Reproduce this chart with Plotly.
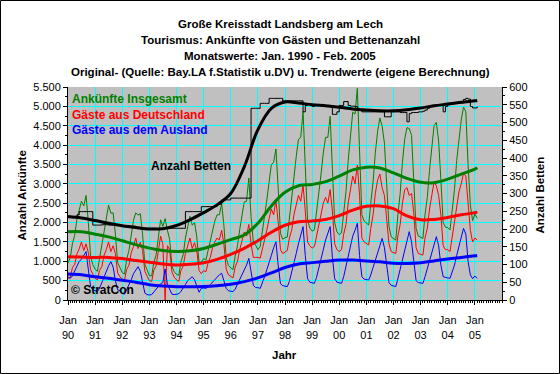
import pandas as pd
import plotly.graph_objects as go

# ---------------- data (monthly, Jan 1990 - Feb 2005) ----------------
months = pd.date_range("1990-01-01", periods=182, freq="MS")

total_arrivals = [
    950, 1100, 1450, 1670, 2090, 2320, 2550, 2430, 2700, 2030, 1130, 910,      # 1990
    800, 740, 1060, 1310, 1750, 2050, 2450, 2240, 2250, 1700, 960, 840,        # 1991
    710, 670, 1050, 1280, 1740, 2060, 2250, 2190, 2230, 1700, 920, 760,        # 1992
    630, 620, 970, 1160, 1580, 2070, 1900, 2100, 1800, 1560, 870, 730,         # 1993
    665, 640, 980, 1170, 1600, 1880, 2160, 1930, 2000, 1630, 960, 980,         # 1994
    1070, 1030, 1280, 1500, 1810, 2040, 2200, 2200, 2490, 1930, 1100, 890,     # 1995
    830, 785, 1130, 1400, 1820, 2200, 2530, 2550, 3150, 2150, 1480, 1420,      # 1996
    1300, 1380, 1720, 2100, 2580, 3050, 3500, 3550, 3900, 2900, 1720, 1570,    # 1997
    1610, 1625, 2080, 2500, 3150, 3700, 4150, 4200, 4865, 3450, 2050, 1860,    # 1998
    1780, 1810, 2230, 2650, 3250, 3800, 4200, 4200, 4745, 3400, 2000, 1760,    # 1999
    1690, 1730, 2300, 2800, 3600, 4300, 4850, 4800, 5465, 3850, 2200, 2040,    # 2000
    1980, 1935, 2500, 3050, 3800, 4350, 4700, 4490, 4050, 2950, 1900, 1630,    # 2001
    1580, 1545, 2200, 2750, 3550, 4150, 4450, 4430, 4250, 3200, 1850, 1650,    # 2002
    1620, 1590, 2200, 2650, 3350, 3950, 4500, 4585, 4100, 3100, 2000, 1880,    # 2003
    1870, 1810, 2350, 2850, 3600, 4200, 4650, 4980, 4860, 3500, 2450, 2050,    # 2004
    2220, 2110,                                                                # 2005
]

guests_germany = [
    560, 580, 830, 920, 1190, 1320, 1500, 1280, 1450, 1230, 780, 650,
    560, 520, 760, 860, 1150, 1300, 1500, 1250, 1400, 1200, 700, 600,
    540, 520, 790, 900, 1220, 1380, 1600, 1330, 1490, 1280, 740, 620,
    500, 480, 770, 880, 1230, 1650, 1450, 0, 1400, 1300, 720, 590,
    520, 480, 760, 870, 1200, 1380, 1600, 1330, 1480, 1280, 760, 680,
    760, 730, 950, 1100, 1350, 1500, 1600, 1550, 1800, 1450, 800, 650,
    600, 570, 850, 1000, 1300, 1550, 1750, 1650, 1950, 1450, 1100, 1100,
    1100, 1080, 1300, 1500, 1800, 2100, 2350, 2200, 2580, 2000, 1300, 1200,
    1250, 1280, 1600, 1800, 2200, 2500, 2700, 2550, 2970, 2300, 1500, 1400,
    1340, 1380, 1650, 1850, 2200, 2500, 2650, 2500, 2850, 2300, 1450, 1300,
    1250, 1300, 1700, 1950, 2500, 2900, 3200, 3000, 3485, 2700, 1600, 1500,
    1450, 1420, 1850, 2200, 2750, 3100, 3250, 2900, 2700, 2100, 1450, 1250,
    1220, 1200, 1650, 1950, 2500, 2850, 2900, 2700, 2750, 2250, 1350, 1200,
    1180, 1160, 1600, 1850, 2350, 2700, 3050, 2950, 2700, 2200, 1400, 1300,
    1300, 1250, 1650, 1950, 2450, 2800, 3000, 3270, 3200, 2500, 1800, 1500,
    1600, 1550,
]

guests_foreign = [
    600, 560, 620, 750, 900, 1000, 1050, 1150, 1250, 800, 350, 260,
    240, 220, 300, 450, 600, 750, 880, 990, 850, 500, 260, 240,
    170, 150, 260, 380, 520, 680, 780, 860, 740, 420, 180, 140,
    130, 140, 200, 280, 350, 420, 450, 800, 400, 260, 150, 140,
    145, 160, 220, 300, 400, 500, 560, 600, 520, 350, 200, 300,
    310, 300, 330, 400, 460, 540, 600, 650, 690, 480, 300, 240,
    230, 215, 280, 400, 520, 650, 780, 900, 1075, 700, 380, 320,
    320, 300, 420, 600, 780, 950, 1150, 1350, 1505, 900, 420, 370,
    360, 345, 480, 700, 950, 1200, 1450, 1650, 1895, 1150, 550, 460,
    440, 430, 580, 800, 1050, 1300, 1550, 1700, 1895, 1100, 550, 460,
    440, 430, 600, 850, 1100, 1400, 1650, 1800, 1980, 1150, 600, 540,
    530, 515, 650, 850, 1050, 1250, 1450, 1590, 1350, 850, 450, 380,
    360, 345, 550, 800, 1050, 1300, 1550, 1765, 1500, 950, 500, 450,
    440, 430, 600, 800, 1000, 1250, 1450, 1635, 1400, 900, 600, 580,
    570, 560, 700, 900, 1150, 1400, 1650, 1850, 1700, 1000, 650, 550,
    620, 560,
]

beds = [
    232, 232, 232, 235, 240, 249, 249, 249, 249, 249, 249, 211,
    211, 211, 211, 212, 212, 212, 211, 211, 211, 210, 210, 210,
    210, 210, 210, 208, 208, 208, 205, 205, 202, 202, 202, 202,
    202, 202, 202, 200, 200, 200, 202, 202, 202, 202, 202, 202,
    202, 202, 202, 202, 249, 249, 249, 249, 249, 249, 249, 263,
    263, 263, 263, 263, 263, 263, 270, 270, 282, 282, 282, 282,
    287, 287, 287, 287, 287, 287, 287, 287, 287, 540, 540, 540,
    540, 554, 554, 554, 554, 568, 568, 568, 568, 568, 568, 561,
    561, 561, 561, 561, 561, 561, 561, 561, 530, 548, 552, 552,
    545, 548, 548, 548, 548, 548, 548, 548, 548, 523, 523, 530,
    548, 548, 559, 559, 548, 546, 546, 545, 540, 535, 530, 530,
    530, 530, 530, 530, 530, 530, 530, 530, 516, 516, 516, 530,
    530, 530, 530, 528, 528, 528, 502, 525, 528, 528, 528, 530,
    530, 532, 535, 540, 545, 548, 548, 548, 548, 548, 530, 545,
    550, 552, 555, 555, 555, 555, 555, 565, 568, 566, 545, 541,
    541, 545,
]

# trend values (every six months, plus the last month)
trend_dates = list(pd.date_range("1990-01-01", "2005-01-01", freq="6MS")) + [pd.Timestamp("2005-02-01")]
trend_total = [1765, 1765, 1700, 1630, 1530, 1430, 1340, 1280, 1255, 1270, 1330, 1440,
               1560, 1680, 1980, 2430, 2780, 2950, 2985, 3055, 3200, 3360, 3430, 3410,
               3280, 3140, 3040, 3030, 3120, 3250, 3380, 3420]
trend_germany = [1120, 1110, 1100, 1100, 1070, 1020, 975, 930, 905, 920, 960, 1050,
                 1180, 1335, 1530, 1750, 1930, 2020, 2040, 2080, 2180, 2320, 2420, 2430,
                 2360, 2170, 2070, 2080, 2130, 2200, 2255, 2280]
trend_foreign = [670, 650, 600, 560, 510, 460, 395, 360, 345, 345, 350, 370,
                 405, 475, 570, 700, 840, 930, 965, 1000, 1030, 1030, 1010, 985,
                 950, 945, 960, 1010, 1060, 1100, 1140, 1145]
trend_beds = [235, 231, 224, 216, 209, 204, 200, 201, 210, 226, 246, 268,
              300, 375, 480, 540, 558, 555, 550, 547, 543, 538, 535, 533,
              533, 536, 541, 547, 552, 557, 561, 562]

years = list(range(1990, 2006))
tick_dates = [f"{y}-01-01" for y in years]
tick_text = [f"Jan<br>{str(y)[2:]}" for y in years]

# ---------------- figure ----------------
FONT = "Liberation Sans, Arial, sans-serif"
GREEN, RED, BLUE = "#008000", "#FF0000", "#0000FF"

fig = go.Figure()
for vals, col in [(total_arrivals, GREEN), (guests_germany, RED), (guests_foreign, BLUE)]:
    fig.add_trace(go.Scatter(x=months, y=vals, mode="lines",
                             line=dict(color=col, width=1), hoverinfo="skip"))
fig.add_trace(go.Scatter(x=months, y=beds, mode="lines", yaxis="y2",
                         line=dict(color="black", width=1, shape="hv"), hoverinfo="skip"))
for vals, col in [(trend_total, GREEN), (trend_germany, RED), (trend_foreign, BLUE)]:
    fig.add_trace(go.Scatter(x=trend_dates, y=vals, mode="lines",
                             line=dict(color=col, width=3, shape="spline"), hoverinfo="skip"))
fig.add_trace(go.Scatter(x=trend_dates, y=trend_beds, mode="lines", yaxis="y2",
                         line=dict(color="black", width=3, shape="spline"), hoverinfo="skip"))

L, R, T, B = 68, 58, 87, 74
PW, PH = 560 - L - R, 374 - T - B


def px(xp):
    return (xp - L) / PW


def py(yp):
    return (374 - B - yp) / PH


fig.update_layout(
    width=560, height=374,
    margin=dict(l=L, r=R, t=T, b=B, pad=0),
    paper_bgcolor="white", plot_bgcolor="#C0C0C0",
    separators=",.",
    showlegend=False,
    font=dict(family=FONT, size=11, color="black"),
    xaxis=dict(type="date", range=["1990-01-01", "2006-01-01"],
               tickmode="array", tickvals=tick_dates, ticktext=tick_text,
               showgrid=True, gridcolor="#00FFFF", gridwidth=1,
               showline=True, linecolor="black", linewidth=1,
               ticks="outside", ticklen=4, tickcolor="black",
               ticklabelstandoff=6,
               minor=dict(dtick="M1", tick0="1990-01-01", ticks="outside",
                          ticklen=2, tickcolor="black", showgrid=False),
               zeroline=False, tickfont=dict(size=11)),
    yaxis=dict(range=[0, 5500], tick0=0, dtick=500, tickformat=",d",
               showgrid=True, gridcolor="#00FFFF", gridwidth=1,
               showline=True, linecolor="black", linewidth=1,
               ticks="outside", ticklen=4, tickcolor="black",
               minor=dict(dtick=250, ticks="outside", ticklen=2,
                          tickcolor="black", showgrid=False),
               zeroline=False, tickfont=dict(size=11)),
    yaxis2=dict(range=[0, 600], tick0=0, dtick=50, overlaying="y", side="right",
                showgrid=False, showline=True, linecolor="black", linewidth=1,
                ticks="outside", ticklen=4, tickcolor="black",
                minor=dict(dtick=25, ticks="outside", ticklen=2,
                           tickcolor="black", showgrid=False),
                zeroline=False, tickfont=dict(size=11)),
)

ann = []
titles = ["Große Kreisstadt Landsberg am Lech",
          "Tourismus: Ankünfte von Gästen und Bettenanzahl",
          "Monatswerte: Jan. 1990 - Feb. 2005",
          "Original- (Quelle: Bay.LA f.Statistik u.DV) u. Trendwerte (eigene Berechnung)"]
for t, yp in zip(titles, [24, 40, 56, 72]):
    ann.append(dict(text=f"<b>{t}</b>", x=px(280), y=py(yp), xref="paper", yref="paper",
                    xanchor="center", yanchor="middle", showarrow=False,
                    font=dict(size=11.5, family=FONT, color="black")))
for t, col, yp in [("Ankünfte Insgesamt", GREEN, 99.5),
                   ("Gäste aus Deutschland", RED, 114.5),
                   ("Gäste aus dem Ausland", BLUE, 129.5)]:
    ann.append(dict(text=f"<b>{t}</b>", x=px(70), y=py(yp), xref="paper", yref="paper",
                    xanchor="left", yanchor="middle", showarrow=False,
                    font=dict(size=12, family=FONT, color=col)))
ann.append(dict(text="<b>Anzahl Betten</b>", x=px(149), y=py(166), xref="paper", yref="paper",
                xanchor="left", yanchor="middle", showarrow=False,
                font=dict(size=12, family=FONT, color="black")))
ann.append(dict(text="<b>© StratCon</b>", x=px(69), y=py(290), xref="paper", yref="paper",
                xanchor="left", yanchor="middle", showarrow=False,
                font=dict(size=12, family=FONT, color="black")))
ann.append(dict(text="<b>Anzahl Ankünfte</b>", x=px(21.5), y=py(196), xref="paper", yref="paper",
                xanchor="center", yanchor="middle", showarrow=False, textangle=-90,
                font=dict(size=11.5, family=FONT, color="black")))
ann.append(dict(text="<b>Anzahl Betten</b>", x=px(539.5), y=py(195), xref="paper", yref="paper",
                xanchor="center", yanchor="middle", showarrow=False, textangle=-90,
                font=dict(size=11.5, family=FONT, color="black")))
ann.append(dict(text="<b>Jahr</b>", x=px(284), y=py(355), xref="paper", yref="paper",
                xanchor="center", yanchor="middle", showarrow=False,
                font=dict(size=11.5, family=FONT, color="black")))
fig.update_layout(annotations=ann)

fig.add_shape(type="rect", xref="paper", yref="paper",
              x0=px(0.5), x1=px(559.5), y0=py(373.5), y1=py(0.5),
              line=dict(color="black", width=1), fillcolor="rgba(0,0,0,0)", layer="above")

fig.write_html("out.html", config={"displayModeBar": False},
               post_script="document.body.style.margin='0px';document.body.style.padding='0px';")
